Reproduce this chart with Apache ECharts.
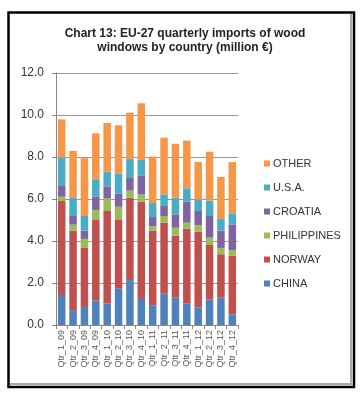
<!DOCTYPE html>
<html><head><meta charset="utf-8">
<script src="https://cdn.jsdelivr.net/npm/echarts@6/dist/echarts.min.js"></script>
<style>html,body{margin:0;padding:0;background:#fff}#c{width:363px;height:401px}</style>
</head><body><div id="c"></div>
<script>
const categories = ["Qtr_1_09","Qtr_2_09","Qtr_3_09","Qtr_4_09","Qtr_1_10","Qtr_2_10","Qtr_3_10","Qtr_4_10","Qtr_1_11","Qtr_2_11","Qtr_3_11","Qtr_4_11","Qtr_1_12","Qtr_2_12","Qtr_3_12","Qtr_4_12"];
const china       = [1.43,0.71,0.86,1.16,1.02,1.75,2.14,1.24,0.94,1.49,1.30,1.02,0.84,1.21,1.30,0.51];
const norway      = [4.47,3.78,2.81,3.87,4.41,3.28,3.92,4.63,3.55,3.38,2.95,3.57,3.60,2.60,2.07,2.79];
const philippines = [0.21,0.29,0.43,0.45,0.59,0.60,0.34,0.34,0.22,0.32,0.38,0.28,0.31,0.35,0.30,0.27];
const croatia     = [0.51,0.41,0.39,0.63,0.58,0.62,0.60,0.89,0.43,0.48,0.64,1.00,0.68,1.03,0.82,1.22];
const usa         = [1.36,0.89,0.70,0.83,0.70,0.96,0.90,0.76,0.67,0.55,0.79,0.64,0.54,0.73,0.56,0.53];
const other       = [1.81,2.21,2.75,2.19,2.32,2.30,2.21,2.70,2.21,2.70,2.57,2.27,1.79,2.33,2.00,2.44];
const yTicks = [0,2,4,6,8,10,12];

const seriesDefs = [
  ["CHINA", china, "#4F81BD"],
  ["NORWAY", norway, "#C0504D"],
  ["PHILIPPINES", philippines, "#9BBB59"],
  ["CROATIA", croatia, "#8064A2"],
  ["U.S.A.", usa, "#4BACC6"],
  ["OTHER", other, "#F79646"]
];

const chart = echarts.init(document.getElementById('c'), null, {renderer:'canvas'});
chart.setOption({
  backgroundColor:'#fff',
  animation:false,
  title:{
    text:'Chart 13: EU-27 quarterly imports of wood\nwindows by country (million €)',
    left:180, top:22, textAlign:'center',
    textStyle:{fontFamily:'Liberation Sans', fontWeight:'bold', fontSize:12, lineHeight:14, color:'#222'}
  },
  legend:{
    orient:'vertical', left:259, top:152,
    data:seriesDefs.map(s=>s[0]).reverse(),
    itemWidth:6, itemHeight:6, itemGap:11,
    icon:'rect',
    textStyle:{fontFamily:'Liberation Sans', fontSize:11, color:'#333', lineHeight:13, padding:[0,0,0,-2]}
  },
  grid:{left:56, top:73, width:182, height:252},
  xAxis:{
    type:'category', data:categories,
    axisLine:{lineStyle:{color:'#888'}},
    axisTick:{show:true, length:4, lineStyle:{color:'#888'}},
    axisLabel:{rotate:90, fontFamily:'Liberation Sans', fontSize:9, color:'#555', margin:5, interval:0}
  },
  yAxis:{
    type:'value', min:yTicks[0], max:yTicks[yTicks.length-1], interval:2,
    axisLine:{show:true, lineStyle:{color:'#888'}},
    axisTick:{show:true, length:4, lineStyle:{color:'#888'}},
    splitLine:{lineStyle:{color:'#999'}},
    axisLabel:{formatter:v=>v.toFixed(1), fontFamily:'Liberation Sans', fontSize:12, color:'#333', margin:12}
  },
  series:seriesDefs.map(s=>({
    name:s[0], type:'bar', stack:'t', data:s[1], barCategoryGap:'34%',
    itemStyle:{color:s[2]}
  })),
  graphic:[
    {type:'polyline', shape:{points:[[351,14],[351,384],[10,384]]}, style:{fill:'none', stroke:'#aaa', lineWidth:2}, z:0},
    {type:'rect', shape:{x:8.5,y:12.5,width:345.5,height:374.5}, style:{fill:'none', stroke:'#000', lineWidth:2.5}, z:1}
  ]
});
</script></body></html>
